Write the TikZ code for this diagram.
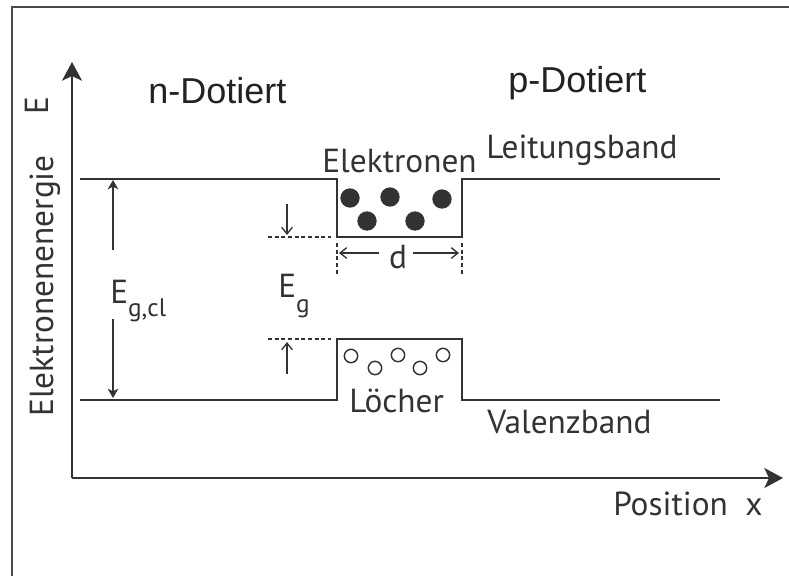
\documentclass[tikz,border=0pt]{standalone}
\usepackage{fontspec}
\setmainfont{PT Sans}
\newfontfamily\arialf{Liberation Sans}
\usetikzlibrary{arrows.meta}
\definecolor{ink}{HTML}{333333}
\definecolor{txt}{HTML}{222222}
\definecolor{framec}{HTML}{4a4a4a}
\begin{document}
\begin{tikzpicture}[x=0.75pt,y=-0.75pt,
  frameline/.style={draw=framec,line width=1.8pt},
  axisline/.style={draw=ink,line width=1.7pt,-{Stealth[length=14pt,width=15pt,inset=3.5pt]}},
  bandline/.style={draw=ink,line width=1.6pt},
  gapline/.style={draw=ink,line width=1.1pt,-{Stealth[length=7pt,width=8pt,inset=2pt]}},
  thinarrow/.style={draw=ink,line width=1.0pt,-{Straight Barb[length=5pt,width=8pt]}},
  dotline/.style={draw=ink,line width=1.0pt,dash pattern=on 3pt off 2pt},
  lblA/.style={font=\arialf\fontsize{27}{30}\selectfont,text=txt,inner sep=0pt},
  lblB/.style={font=\fontsize{25}{28}\selectfont,text=ink,inner sep=0pt},
  edot/.style={circle,fill=ink,draw=none,minimum size=14.5pt,inner sep=0pt},
  hole/.style={circle,draw=ink,line width=1.1pt,minimum size=10pt,inner sep=0pt}]
\useasboundingbox (0,0) rectangle (789,576);
% frame
\coordinate (fTR) at (789,7);
\coordinate (fTL) at (12,7);
\coordinate (fBL) at (12,576);
\draw[frameline] (fTR) -- (fTL) -- (fBL);
% axes
\coordinate (O) at (72,478);
\coordinate (ytip) at (72,62);
\coordinate (xtip) at (783,478);
\draw[axisline] (O) -- (ytip);
\draw[axisline] (O) -- (xtip);
% conduction band
\coordinate (c1) at (80,179);
\coordinate (c2) at (337,179);
\coordinate (c3) at (337,237);
\coordinate (c4) at (462,237);
\coordinate (c5) at (462,179);
\coordinate (c6) at (720,179);
\draw[bandline] (c1) -- (c2) -- (c3) -- (c4) -- (c5) -- (c6);
% valence band
\coordinate (v1) at (80,400);
\coordinate (v2) at (337,400);
\coordinate (v3) at (337,339);
\coordinate (v4) at (462,339);
\coordinate (v5) at (462,400);
\coordinate (v6) at (720,400);
\draw[bandline] (v1) -- (v2) -- (v3) -- (v4) -- (v5) -- (v6);
% electrons
\node[edot] (e1) at (350,198) {};
\node[edot] (e2) at (390,197) {};
\node[edot] (e3) at (442,199) {};
\node[edot] (e4) at (367,221) {};
\node[edot] (e5) at (415,221) {};
% holes
\node[hole] (h1) at (351,356) {};
\node[hole] (h2) at (375,368) {};
\node[hole] (h3) at (398,355) {};
\node[hole] (h4) at (420,368) {};
\node[hole] (h5) at (443,355) {};
% texts
\node[lblA,anchor=base west] (nD) at (148,103) {n-Dotiert};
\node[lblA,anchor=base west] (pD) at (508,92) {p-Dotiert};
\node[lblB,anchor=base west] (el) at (322,172) {Elektronen};
\node[lblB,anchor=base west] (lb) at (486,158) {Leitungsband};
\node[lblB,anchor=base west] (lo) at (349,412) {Löcher};
\node[lblB,anchor=base west] (vb) at (487,433) {Valenzband};
\node[lblB,anchor=base west] (pos) at (613,515) {Position};
\node[lblB,anchor=base west] (xl) at (745,515) {x};
\node[lblB,anchor=base west,rotate=90] (een) at (53,417) {Elektronenenergie};
\node[lblB,anchor=base west,rotate=90] (Eax) at (48,115) {E};
\node[lblB,anchor=base west] (Eg) at (278,297) {E\raisebox{-0.45em}{\fontsize{19}{20}\selectfont g}};
\node[lblB,anchor=base west] (Egcl) at (110,303) {E\raisebox{-0.4em}{\fontsize{19}{20}\selectfont g,cl}};
\node[lblB,anchor=base] (dl) at (398,268) {d};
% E_g,cl arrows
\coordinate (gc1) at (113,250);
\coordinate (gc2) at (113,180);
\coordinate (gc3) at (113,319);
\coordinate (gc4) at (113,398);
\draw[gapline] (gc1) -- (gc2);
\draw[gapline] (gc3) -- (gc4);
% E_g markers
\coordinate (dl1) at (268,237);
\coordinate (dl2) at (331,237);
\coordinate (dl3) at (268,339);
\coordinate (dl4) at (331,339);
\draw[dotline] (dl1) -- (dl2);
\draw[dotline] (dl3) -- (dl4);
\coordinate (ga1) at (287,204);
\coordinate (ga2) at (287,235);
\coordinate (ga3) at (287,374);
\coordinate (ga4) at (287,342);
\draw[thinarrow] (ga1) -- (ga2);
\draw[thinarrow] (ga3) -- (ga4);
% d markers
\coordinate (dv1) at (337,243);
\coordinate (dv2) at (337,276);
\coordinate (dv3) at (462,243);
\coordinate (dv4) at (462,276);
\draw[dotline] (dv1) -- (dv2);
\draw[dotline] (dv3) -- (dv4);
\coordinate (da1) at (379,253);
\coordinate (da2) at (339,253);
\coordinate (da3) at (413,253);
\coordinate (da4) at (459,253);
\draw[thinarrow] (da1) -- (da2);
\draw[thinarrow] (da3) -- (da4);
\end{tikzpicture}
\end{document}
